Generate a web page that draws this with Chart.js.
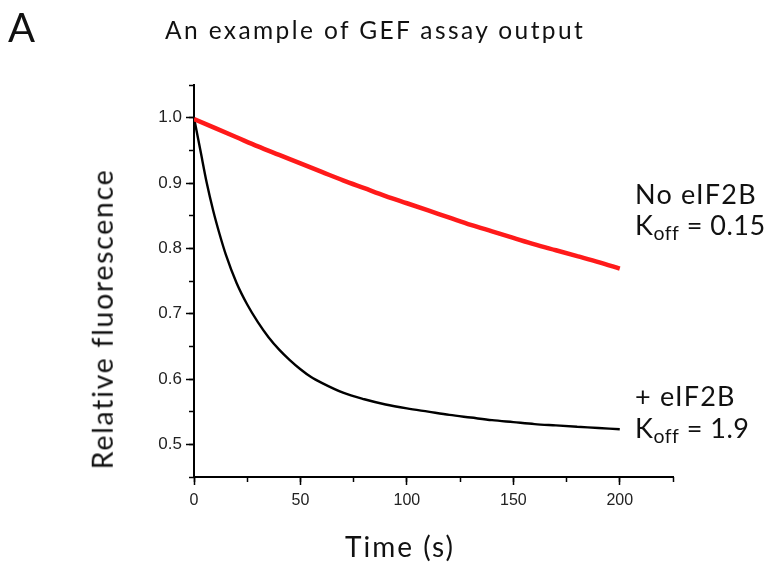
<!DOCTYPE html>
<html>
<head>
<meta charset="utf-8">
<script src="https://cdn.jsdelivr.net/npm/chart.js@4/dist/chart.umd.min.js"></script>
<style>
  html, body { margin: 0; padding: 0; background: #ffffff; }
  #wrap { position: relative; width: 766px; height: 569px; overflow: hidden; background:#fff; }
  canvas { position: absolute; left: 0; top: 0; }
  .t { position: absolute; white-space: nowrap; font-family: Lato, "Open Sans", sans-serif; color: #111; line-height: 1; }
  sub { font-size: 0.72em; vertical-align: -0.28em; line-height: 0; }
</style>
</head>
<body>
<div id="wrap">
  <canvas id="c" width="766" height="569"></canvas>
  <div class="t" id="panel" style="left:8px; top:7px; font-size:40px; font-weight:400;">A</div>
  <div class="t" id="title" style="left:165px; top:17.6px; font-size:24.5px; letter-spacing:2.4px;">An example of GEF assay output</div>
  <div class="t" style="left:635px; top:180px; font-size:27px; letter-spacing:1.2px;">No eIF2B</div>
  <div class="t" style="left:635px; top:211px; font-size:27px; letter-spacing:0.5px;">K<sub>off</sub> = 0.15</div>
  <div class="t" style="left:635px; top:382px; font-size:27px; letter-spacing:1.2px;">+ eIF2B</div>
  <div class="t" style="left:635px; top:414px; font-size:27px; letter-spacing:0.5px;">K<sub>off</sub> = 1.9</div>
  <div class="t" style="left:345px; top:532px; font-size:28px; letter-spacing:2px;">Time (s)</div>
  <div class="t" style="left:102px; top:319px; font-size:28.5px; letter-spacing:1.7px; transform: translate(-50%,-50%) rotate(-90deg); transform-origin: center;">Relative fluorescence</div>
</div>
<script>
// ---- data ----
const timesNoEIF2B = [0, 10, 20, 30, 40, 50, 60, 70, 80, 90, 100, 110, 120, 130, 140, 150, 160, 170, 180, 190, 200];
const fluorNoEIF2B = [0.998, 0.984, 0.970, 0.956, 0.943, 0.930, 0.917, 0.904, 0.892, 0.880, 0.869, 0.858, 0.847, 0.836, 0.826, 0.816, 0.806, 0.797, 0.788, 0.779, 0.769];

const timesPlusEIF2B = [0, 3, 6, 9, 12, 15, 20, 25, 30, 35, 40, 45, 50, 55, 60, 70, 80, 90, 100, 110, 120, 130, 140, 150, 160, 170, 180, 190, 200];
const fluorPlusEIF2B = [1.000, 0.950, 0.900, 0.858, 0.822, 0.790, 0.747, 0.714, 0.687, 0.664, 0.645, 0.629, 0.615, 0.603, 0.594, 0.579, 0.569, 0.561, 0.555, 0.550, 0.545, 0.541, 0.537, 0.534, 0.531, 0.529, 0.527, 0.525, 0.523];

const xTickValues = [0, 50, 100, 150, 200];
const xMinorTickValues = [0, 25, 50, 75, 100, 125, 150, 175, 200, 225];
const yTickValues = [0.5, 0.6, 0.7, 0.8, 0.9, 1.0];
const yMinorTickValues = [0.45, 0.5, 0.55, 0.6, 0.65, 0.7, 0.75, 0.8, 0.85, 0.9, 0.95, 1.0, 1.05];

const toPoints = (xs, ys) => xs.map((x, i) => ({ x: x, y: ys[i] }));
const setTicks = vals => scale => { scale.ticks = vals.map(v => ({ value: v })); };

const xTickFont = { family: '"Liberation Sans", Arial, sans-serif', size: 16 };
const yTickFont = { family: '"Liberation Sans", Arial, sans-serif', size: 17 };

new Chart(document.getElementById('c'), {
  type: 'scatter',
  data: {
    datasets: [
      { label: 'No eIF2B', data: toPoints(timesNoEIF2B, fluorNoEIF2B), showLine: true,
        borderColor: '#ff1a1a', borderWidth: 4.5, pointRadius: 0, cubicInterpolationMode: 'monotone' },
      { label: '+ eIF2B', data: toPoints(timesPlusEIF2B, fluorPlusEIF2B), showLine: true,
        borderColor: '#000000', borderWidth: 2.4, pointRadius: 0, cubicInterpolationMode: 'monotone' }
    ]
  },
  options: {
    responsive: false,
    animation: false,
    devicePixelRatio: 1,
    layout: { padding: { left: 0, right: 93, top: 85, bottom: 62 } },
    plugins: { legend: { display: false }, tooltip: { enabled: false } },
    scales: {
      x: {
        type: 'linear', position: 'bottom', min: 0, max: 225, weight: 1,
        afterBuildTicks: setTicks(xTickValues),
        afterFit: s => { s.height = 30; },
        ticks: { font: xTickFont, color: '#222', padding: 6, maxRotation: 0, autoSkip: false,
                 callback: v => String(v) },
        grid: { drawOnChartArea: false, drawTicks: true, tickLength: 8, tickColor: '#000', tickWidth: 1.5 },
        border: { display: true, color: '#000', width: 2 }
      },
      xMinor: {
        type: 'linear', position: 'bottom', min: 0, max: 225, weight: 0,
        afterBuildTicks: setTicks(xMinorTickValues),
        afterFit: s => { s.height = 0; },
        ticks: { display: false },
        grid: { drawOnChartArea: false, drawTicks: true, tickLength: 5, tickColor: '#000', tickWidth: 1.5 },
        border: { display: false }
      },
      y: {
        type: 'linear', position: 'left', min: 0.45, max: 1.05, weight: 1,
        afterBuildTicks: setTicks(yTickValues),
        afterFit: s => { s.width = 194; },
        ticks: { font: yTickFont, color: '#222', padding: 4, autoSkip: false,
                 callback: v => v.toFixed(1) },
        grid: { drawOnChartArea: false, drawTicks: true, tickLength: 8, tickColor: '#000', tickWidth: 1.5 },
        border: { display: true, color: '#000', width: 2 }
      },
      yMinor: {
        type: 'linear', position: 'left', min: 0.45, max: 1.05, weight: 0,
        afterBuildTicks: setTicks(yMinorTickValues),
        afterFit: s => { s.width = 0; },
        ticks: { display: false },
        grid: { drawOnChartArea: false, drawTicks: true, tickLength: 5, tickColor: '#000', tickWidth: 1.5 },
        border: { display: false }
      }
    }
  }
});
</script>
</body>
</html>
